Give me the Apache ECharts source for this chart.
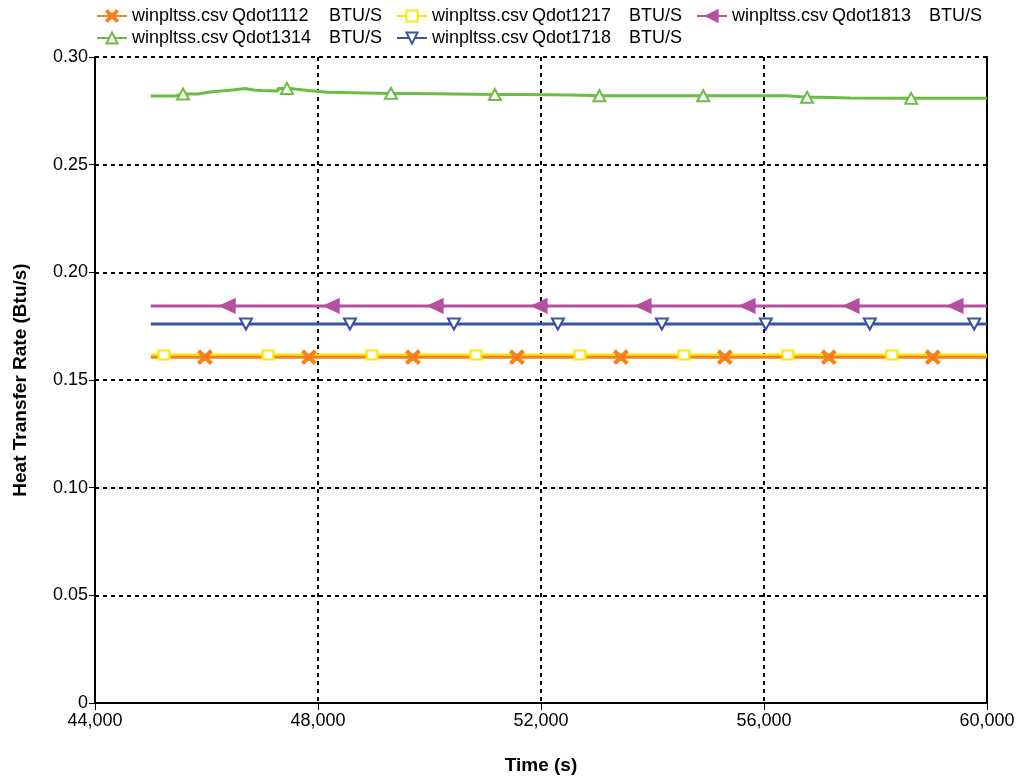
<!DOCTYPE html>
<html>
<head>
<meta charset="utf-8">
<script src="https://cdn.jsdelivr.net/npm/echarts@6/dist/echarts.min.js"></script>
<style>
html,body{margin:0;padding:0;background:#fff;}
#chart{width:1021px;height:782px;}
</style>
</head>
<body>
<div id="chart"></div>
<script>
// ---- data ----
const xTicks = [44000, 48000, 52000, 56000, 60000];
const yTicks = [0, 0.05, 0.10, 0.15, 0.20, 0.25, 0.30];

const q1112Time = [45000, 60000];
const q1112Value = [0.1606, 0.1606];
const q1112MarkerTime = [45973, 47838, 49703, 51568, 53433, 55298, 57163, 59028];

const q1217Time = [45000, 60000];
const q1217Value = [0.1616, 0.1616];
const q1217MarkerTime = [45238, 47103, 48968, 50833, 52698, 54563, 56428, 58293];

const q1813Time = [45000, 60000];
const q1813Value = [0.1844, 0.1844];
const q1813MarkerTime = [46380, 48245, 50110, 51975, 53840, 55705, 57570, 59435];

const q1314Time = [45000, 45435, 45848, 46063, 46422, 46691, 46870, 46996, 47283, 47498, 47618, 47821, 48179, 49076, 49686, 51659, 52538, 55031, 56413, 57004, 57543, 60000];
const q1314Value = [0.2819, 0.2828, 0.2837, 0.2846, 0.2854, 0.2846, 0.2844, 0.2842, 0.2854, 0.2850, 0.2844, 0.2836, 0.2832, 0.2831, 0.2826, 0.2824, 0.2820, 0.2820, 0.2813, 0.2810, 0.2808, 0.2807];
const q1314MarkerTime = [45578, 47443, 49308, 51173, 53048, 54910, 56772, 58640];

const q1718Time = [45000, 60000];
const q1718Value = [0.1760, 0.1760];
const q1718MarkerTime = [46708, 48573, 50438, 52303, 54168, 56033, 57898, 59770];

// ---- build ----
function build(times, values, markers) {
  const pts = times.map((t, i) => ({ value: [t, values[i]], symbol: 'none' }));
  markers.forEach(mt => {
    let v = values[0];
    for (let i = 0; i < times.length; i++) { if (times[i] <= mt) v = values[i]; }
    pts.push({ value: [mt, v] });
  });
  pts.sort((a, b) => a.value[0] - b.value[0]);
  return pts;
}

const FONT = "'Liberation Sans', Arial, sans-serif";
const crossPath = 'path://M1.2,0 L5,3.8 L8.8,0 L10,1.2 L6.2,5 L10,8.8 L8.8,10 L5,6.2 L1.2,10 L0,8.8 L3.8,5 L0,1.2 Z';

const seriesDefs = [
  { name: 'Qdot1217', color: '#ffe800', times: q1217Time, values: q1217Value, markers: q1217MarkerTime, symbol: 'emptyRect', size: [11, 9], rotate: 0 },
  { name: 'Qdot1112', color: '#f5821f', times: q1112Time, values: q1112Value, markers: q1112MarkerTime, symbol: crossPath, size: 13, rotate: 0 },
  { name: 'Qdot1813', color: '#b3519f', times: q1813Time, values: q1813Value, markers: q1813MarkerTime, symbol: 'triangle', size: [13, 14], rotate: 90 },
  { name: 'Qdot1314', color: '#6abd45', times: q1314Time, values: q1314Value, markers: q1314MarkerTime, symbol: 'emptyTriangle', size: [12, 11], rotate: 0 },
  { name: 'Qdot1718', color: '#3a54a4', times: q1718Time, values: q1718Value, markers: q1718MarkerTime, symbol: 'emptyTriangle', size: [12, 11], rotate: 180 }
];

const series = seriesDefs.map(d => ({
  name: d.name,
  type: 'line',
  step: 'end',
  data: build(d.times, d.values, d.markers),
  color: d.color,
  symbol: d.symbol,
  symbolSize: d.size,
  symbolRotate: d.rotate,
  showSymbol: true,
  lineStyle: { width: 3, color: d.color },
  itemStyle: { color: d.color, borderWidth: 2, borderColor: d.color },
  emphasis: { disabled: true },
  animation: false
}));

const richTxt = { fontFamily: FONT, fontSize: 18, color: '#000', lineHeight: 15 };
const chart = echarts.init(document.getElementById('chart'), null, { renderer: 'canvas' });
chart.setOption({
  backgroundColor: '#fff',
  animation: false,
  textStyle: { fontFamily: FONT },
  legend: {
    data: ['Qdot1112', 'Qdot1217', 'Qdot1813', 'Qdot1314', 'Qdot1718'],
    left: 91, top: 2, width: 910,
    itemWidth: 30, itemHeight: 14, itemGap: 4,
    formatter: n => '{a|winpltss.csv}{b|' + n + '}{c|BTU/S}',
    textStyle: {
      fontFamily: FONT, fontSize: 18, color: '#000', lineHeight: 15,
      rich: {
        a: Object.assign({ width: 100 }, richTxt),
        b: Object.assign({ width: 97 }, richTxt),
        c: Object.assign({ width: 63 }, richTxt)
      }
    }
  },
  grid: { left: 95, right: 34, top: 57, bottom: 79, containLabel: false },
  xAxis: {
    type: 'value', min: xTicks[0], max: xTicks[xTicks.length - 1], interval: 4000,
    name: 'Time (s)', nameLocation: 'middle', nameGap: 53,
    nameTextStyle: { fontFamily: FONT, fontSize: 19, fontWeight: 'bold', color: '#000' },
    axisLine: { show: true, onZero: false, lineStyle: { color: '#000', width: 2 } },
    axisTick: { show: true, length: 7, lineStyle: { color: '#000', width: 1 } },
    axisLabel: { color: '#000', fontSize: 18, fontFamily: FONT, margin: 9,
      formatter: v => v.toLocaleString('en-US') },
    splitLine: { show: true, lineStyle: { color: '#000', width: 2, type: [4, 4] } }
  },
  yAxis: [{
    type: 'value', min: yTicks[0], max: yTicks[yTicks.length - 1], interval: 0.05,
    name: 'Heat Transfer Rate (Btu/s)', nameLocation: 'middle', nameGap: 65,
    nameTextStyle: { fontFamily: FONT, fontSize: 19, fontWeight: 'bold', color: '#000' },
    axisLine: { show: true, lineStyle: { color: '#000', width: 2 } },
    axisTick: { show: true, length: 6, lineStyle: { color: '#000', width: 1 } },
    axisLabel: { color: '#000', fontSize: 18, fontFamily: FONT, margin: 7,
      formatter: v => v === 0 ? '0' : v.toFixed(2) },
    splitLine: { show: true, lineStyle: { color: '#000', width: 2, type: [4, 4] } }
  }, {
    type: 'value', position: 'right', min: 0, max: 0.3,
    axisLine: { show: true, lineStyle: { color: '#000', width: 2 } },
    axisTick: { show: false }, axisLabel: { show: false }, splitLine: { show: false }
  }],
  series: series
});
</script>
</body>
</html>
